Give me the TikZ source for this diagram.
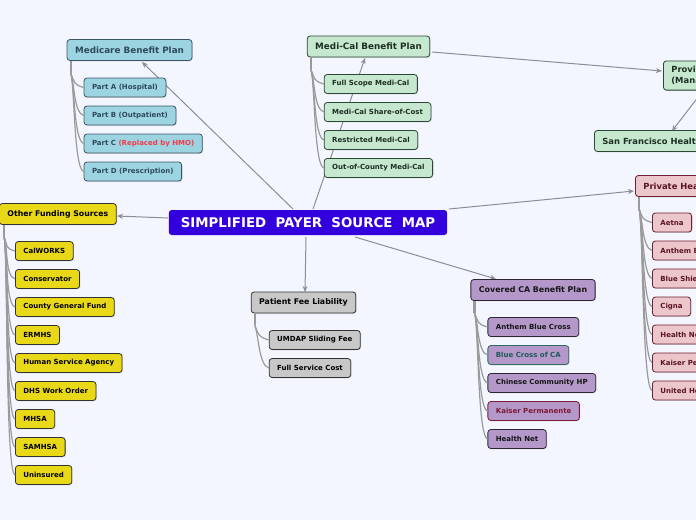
\documentclass[tikz,border=0pt]{standalone}
\usepackage{fontspec}
\setmainfont{DejaVu Sans}
\usepackage{xcolor}
\usetikzlibrary{positioning, arrows.meta, calc, shadows}
\definecolor{pagebg}{HTML}{F3F6FE}
\definecolor{titlefill}{HTML}{3300DD}
\definecolor{linkgray}{HTML}{8C8E96}
\definecolor{branchgray}{HTML}{9A9A9A}
\definecolor{medfill}{HTML}{9DD4E2}
\definecolor{meddraw}{HTML}{3B5563}
\definecolor{medtext}{HTML}{2E4A5A}
\definecolor{mcalfill}{HTML}{C5E8CF}
\definecolor{mcaldraw}{HTML}{2E4634}
\definecolor{mcaltext}{HTML}{1F2E22}
\definecolor{privfill}{HTML}{EBC7CB}
\definecolor{privdraw}{HTML}{6E1F30}
\definecolor{privtext}{HTML}{5C1426}
\definecolor{fundfill}{HTML}{E8D818}
\definecolor{feefill}{HTML}{C8C8C8}
\definecolor{darkline}{HTML}{333333}
\definecolor{cafill}{HTML}{B598CA}
\definecolor{cadraw}{HTML}{2E2438}
\definecolor{catext}{HTML}{161616}
\definecolor{tealdraw}{HTML}{2D6B63}
\definecolor{tealtext}{HTML}{1E5B58}
\definecolor{kaisdraw}{HTML}{7C1A33}
\definecolor{hmored}{HTML}{F23A4A}

\tikzset{
  boxbase/.style={draw, rounded corners=3pt, line width=0.8pt,
    drop shadow={shadow xshift=0.8pt, shadow yshift=-0.8pt, opacity=0.25}},
  topic/.style={boxbase, inner xsep=8pt, minimum height=21pt,
    font=\bfseries\fontsize{8.4}{11}\selectfont},
  leaf/.style={boxbase, anchor=west, inner xsep=8pt, minimum height=19pt,
    font=\bfseries\fontsize{7}{8}\selectfont},
  link/.style={draw=linkgray, line width=1pt, -{Stealth[length=6pt, width=5pt]}},
  branch/.style={draw=branchgray, line width=1.2pt},
  stem/.style={draw=branchgray, line width=2.2pt},
  medicare/.style={fill=medfill, draw=meddraw, text=medtext},
  medical/.style={fill=mcalfill, draw=mcaldraw, text=mcaltext},
  private/.style={fill=privfill, draw=privdraw, text=privtext},
  funding/.style={fill=fundfill, draw=darkline, text=black},
  feeliab/.style={fill=feefill, draw=darkline, text=black},
  covered/.style={fill=cafill, draw=cadraw, text=catext},
  tealleaf/.style={fill=cafill, draw=tealdraw, text=tealtext},
  kaisleaf/.style={fill=cafill, draw=kaisdraw, text=kaisdraw}
}

\begin{document}
\begin{tikzpicture}[x=1pt, y=-1pt]
  \useasboundingbox (0,0) rectangle (696,520);
  \fill[pagebg] (0,0) rectangle (696,520);

  % connectors from the centre, drawn first so boxes sit on top
  \coordinate (tA) at (293,209);
  \coordinate (tB) at (313,209);
  \coordinate (tC) at (449,209);
  \coordinate (tD) at (168,218);
  \coordinate (tE) at (306,237);
  \coordinate (tF) at (355,237);
  \draw[link] (tA) -- (142,62);
  \draw[link] (tB) -- (365,58);
  \draw[link] (432,52) -- (662,71);
  \draw[link] (702,92) -- (672,131);
  \draw[link] (tC) -- (634,191);
  \draw[link] (tD) -- (117,216);
  \draw[link] (tE) -- (305,292);
  \draw[link] (tF) -- (496,279);

  \node[fill=titlefill, text=white, rounded corners=3pt, inner xsep=12pt,
        minimum height=25pt, font=\bfseries\fontsize{13.35}{15}\selectfont]
        (title) at (308,222.5) {SIMPLIFIED\ \ PAYER\ \ SOURCE\ \ MAP};

  \node[topic, medicare, font=\bfseries\fontsize{8.8}{11}\selectfont]
        (mcr) at (129.5,50) {Medicare Benefit Plan};
  \node[topic, medical, font=\bfseries\fontsize{8.8}{11}\selectfont]
        (mcal) at (368.5,46.5) {Medi-Cal Benefit Plan};
  \node[topic, medical, anchor=west, align=left, inner ysep=5pt]
        (prov) at (663,75.5) {Provider\\(Managed Care)};
  \node[topic, medical, anchor=west] (sfhp) at (594,141) {San Francisco Health Plan};
  \node[topic, private, anchor=west] (priv) at (635,186) {Private Health Insurance};
  \node[topic, funding, anchor=west, font=\bfseries\fontsize{7.8}{10}\selectfont]
        (fund) at (-1,214) {Other Funding Sources};
  \node[topic, feeliab, font=\bfseries\fontsize{7.85}{10}\selectfont]
        (fee) at (303.5,302.5) {Patient Fee Liability};
  \node[topic, covered, font=\bfseries\fontsize{7.9}{10}\selectfont]
        (cca) at (533,290) {Covered CA Benefit Plan};

  % child lists
  \foreach \txt [count=\i] in {Part A (Hospital), Part B (Outpatient),
      {Part C \textcolor{hmored}{(Replaced by HMO)}}, Part D (Prescription)}{
    \node[leaf, medicare] (mcr\i) at ($(mcr.west)+(17,{9.5+28*\i})$) {\txt};
    \draw[branch] ($(mcr.south west)+(4,12)$) .. controls +(4,10) and +(-10,-3) .. (mcr\i.west);
  }
  \draw[stem] ($(mcr.south west)+(4,0)$) -- ++(0,12);

  \foreach \txt [count=\i] in {Full Scope Medi-Cal, Medi-Cal Share-of-Cost,
      Restricted Medi-Cal, Out-of-County Medi-Cal}{
    \node[leaf, medical] (mcal\i) at ($(mcal.west)+(17,{9.5+28*\i})$) {\txt};
    \draw[branch] ($(mcal.south west)+(4,12)$) .. controls +(4,10) and +(-10,-3) .. (mcal\i.west);
  }
  \draw[stem] ($(mcal.south west)+(4,0)$) -- ++(0,12);

  \foreach \txt [count=\i] in {Aetna, Anthem Blue Cross, Blue Shield, Cigna,
      Health Net, Kaiser Permanente, United Healthcare}{
    \node[leaf, private] (priv\i) at ($(priv.west)+(17,{8.5+28*\i})$) {\txt};
    \draw[branch] ($(priv.south west)+(4,12)$) .. controls +(4,10) and +(-10,-3) .. (priv\i.west);
  }
  \draw[stem] ($(priv.south west)+(4,0)$) -- ++(0,12);

  \foreach \txt [count=\i] in {CalWORKS, Conservator, County General Fund, ERMHS,
      Human Service Agency, DHS Work Order, MHSA, SAMHSA, Uninsured}{
    \node[leaf, funding] (fund\i) at ($(fund.west)+(16,{9+28*\i})$) {\txt};
    \draw[branch] ($(fund.south west)+(5,12)$) .. controls +(4,10) and +(-10,-3) .. (fund\i.west);
  }
  \draw[stem] ($(fund.south west)+(5,0)$) -- ++(0,12);

  \foreach \txt [count=\i] in {UMDAP Sliding Fee, Full Service Cost}{
    \node[leaf, feeliab] (fee\i) at ($(fee.west)+(18,{9.5+28*\i})$) {\txt};
    \draw[branch] ($(fee.south west)+(4,12)$) .. controls +(4,10) and +(-10,-3) .. (fee\i.west);
  }
  \draw[stem] ($(fee.south west)+(4,0)$) -- ++(0,12);

  \foreach \txt/\look [count=\i] in {Anthem Blue Cross/covered, Blue Cross of CA/tealleaf,
      Chinese Community HP/covered, Kaiser Permanente/kaisleaf, Health Net/covered}{
    \node[leaf, \look] (cca\i) at ($(cca.west)+(17,{9+28*\i})$) {\txt};
    \draw[branch] ($(cca.south west)+(4,12)$) .. controls +(4,10) and +(-10,-3) .. (cca\i.west);
  }
  \draw[stem] ($(cca.south west)+(4,0)$) -- ++(0,12);
\end{tikzpicture}
\end{document}
